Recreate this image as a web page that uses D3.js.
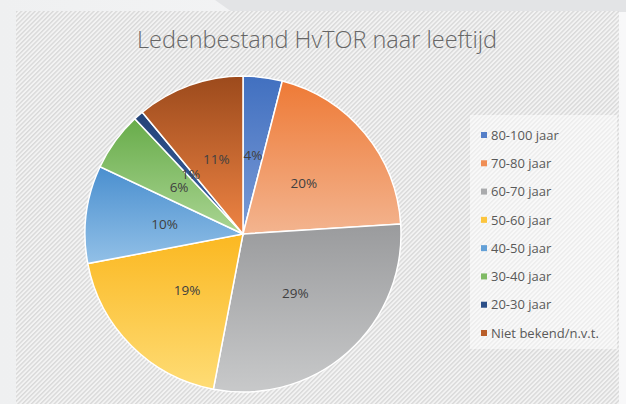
<!DOCTYPE html>
<html>
<head>
<meta charset="utf-8">
<script src="https://cdn.jsdelivr.net/npm/d3@7"></script>
<style>
  html, body { margin: 0; padding: 0; }
  body { width: 626px; height: 404px; overflow: hidden; }
</style>
</head>
<body>
<div id="grafico"></div>
<script>
const categories = ['80-100 jaar', '70-80 jaar', '60-70 jaar', '50-60 jaar',
                    '40-50 jaar', '30-40 jaar', '20-30 jaar', 'Niet bekend/n.v.t.'];
const values     = [4, 20, 29, 19, 10, 6, 1, 11];
const colorsTop  = ['#4170c0', '#ee7a36', '#9a9b9d', '#fbb821', '#4a8fcf', '#68ac4a', '#244377', '#9c4a1c'];
const colorsBot  = ['#7b9bd6', '#f3b48f', '#c8c9ca', '#fedc75', '#92c0e7', '#aad593', '#3c64a8', '#ee8444'];

const width  = 626;
const height = 404;

const svg = d3.select('#grafico')
              .append('svg')
              .attr('width', width)
              .attr('height', height);

const defs = svg.append('defs');

// page background
const bg = defs.append('linearGradient').attr('id', 'bg')
               .attr('x1', 0).attr('y1', 0).attr('x2', 1).attr('y2', 0);
bg.append('stop').attr('offset', 0).attr('stop-color', '#eff0f1');
bg.append('stop').attr('offset', 1).attr('stop-color', '#f8f8f9');

// hatch pattern of the chart area
const hatch = defs.append('pattern').attr('id', 'hatch')
                  .attr('patternUnits', 'userSpaceOnUse')
                  .attr('width', 3.2).attr('height', 3.2)
                  .attr('patternTransform', 'rotate(45)');
hatch.append('rect').attr('width', 3.2).attr('height', 3.2).attr('fill', '#f3f3f3');
hatch.append('rect').attr('width', 1.4).attr('height', 3.2).attr('fill', '#d9d9d9');

svg.append('rect').attr('width', width).attr('height', height).attr('fill', 'url(#bg)');
svg.append('path')
   .attr('d', 'M215,0 L626,0 L626,12 L232,12 Z')
   .attr('fill', '#e3e4e6');

svg.append('rect')
   .attr('x', 16).attr('y', 11)
   .attr('width', 603).attr('height', height - 11)
   .attr('fill', 'url(#hatch)');

svg.append('text')
   .attr('x', 317)
   .attr('y', 48)
   .attr('text-anchor', 'middle')
   .attr('font-family', 'Open Sans')
   .attr('font-weight', 300)
   .attr('font-size', '23px')
   .attr('fill', '#666666')
   .attr('textLength', 360)
   .attr('lengthAdjust', 'spacingAndGlyphs')
   .text('Ledenbestand HvTOR naar leeftijd');

// slice gradients
categories.forEach((c, i) => {
    const lg = defs.append('linearGradient').attr('id', 'grad' + i)
                   .attr('x1', 0).attr('y1', 0).attr('x2', 0).attr('y2', 1);
    lg.append('stop').attr('offset', 0).attr('stop-color', colorsTop[i]);
    lg.append('stop').attr('offset', 1).attr('stop-color', colorsBot[i]);
});

const data = categories.map((c, i) => ({ name: c, value: values[i], idx: i }));

const radius = 158;
const g = svg.append('g').attr('transform', 'translate(243, 234)');

const pie = d3.pie().value(d => d.value).sort(null);
const arc = d3.arc().innerRadius(0).outerRadius(radius);
const labelArc = d3.arc().innerRadius(79).outerRadius(79);

const arcs = pie(data);

g.selectAll('path.slice')
 .data(arcs)
 .enter()
 .append('path')
 .attr('class', 'slice')
 .attr('d', arc)
 .attr('fill', d => `url(#grad${d.data.idx})`)
 .attr('stroke', '#ffffff')
 .attr('stroke-width', 1.5);

const total = d3.sum(values);

g.selectAll('text.lbl')
 .data(arcs)
 .enter()
 .append('text')
 .attr('class', 'lbl')
 .attr('transform', d => `translate(${labelArc.centroid(d)})`)
 .attr('text-anchor', 'middle')
 .attr('dy', '0.35em')
 .attr('font-family', 'Open Sans')
 .attr('font-size', '13.5px')
 .attr('fill', '#404040')
 .text(d => Math.round(d.data.value / total * 100) + '%');

// legend
const legend = svg.append('g').attr('transform', 'translate(470, 115)');
legend.append('rect')
      .attr('width', 147).attr('height', 234)
      .attr('fill', '#ffffff').attr('fill-opacity', 0.5);

const yLegend = d3.scalePoint()
                  .domain(categories)
                  .range([20, 218]);

const items = legend.selectAll('g.item')
                    .data(data)
                    .enter()
                    .append('g')
                    .attr('class', 'item')
                    .attr('transform', d => `translate(0, ${yLegend(d.name)})`);

items.append('rect')
     .attr('x', 11).attr('y', -3)
     .attr('width', 6).attr('height', 6)
     .attr('fill', d => d3.interpolateRgb(colorsTop[d.idx], colorsBot[d.idx])(0.35));

items.append('text')
     .attr('x', 21)
     .attr('dy', '0.36em')
     .attr('font-family', 'Open Sans')
     .attr('font-size', '13px')
     .attr('fill', '#595959')
     .text(d => d.name);
</script>
</body>
</html>
